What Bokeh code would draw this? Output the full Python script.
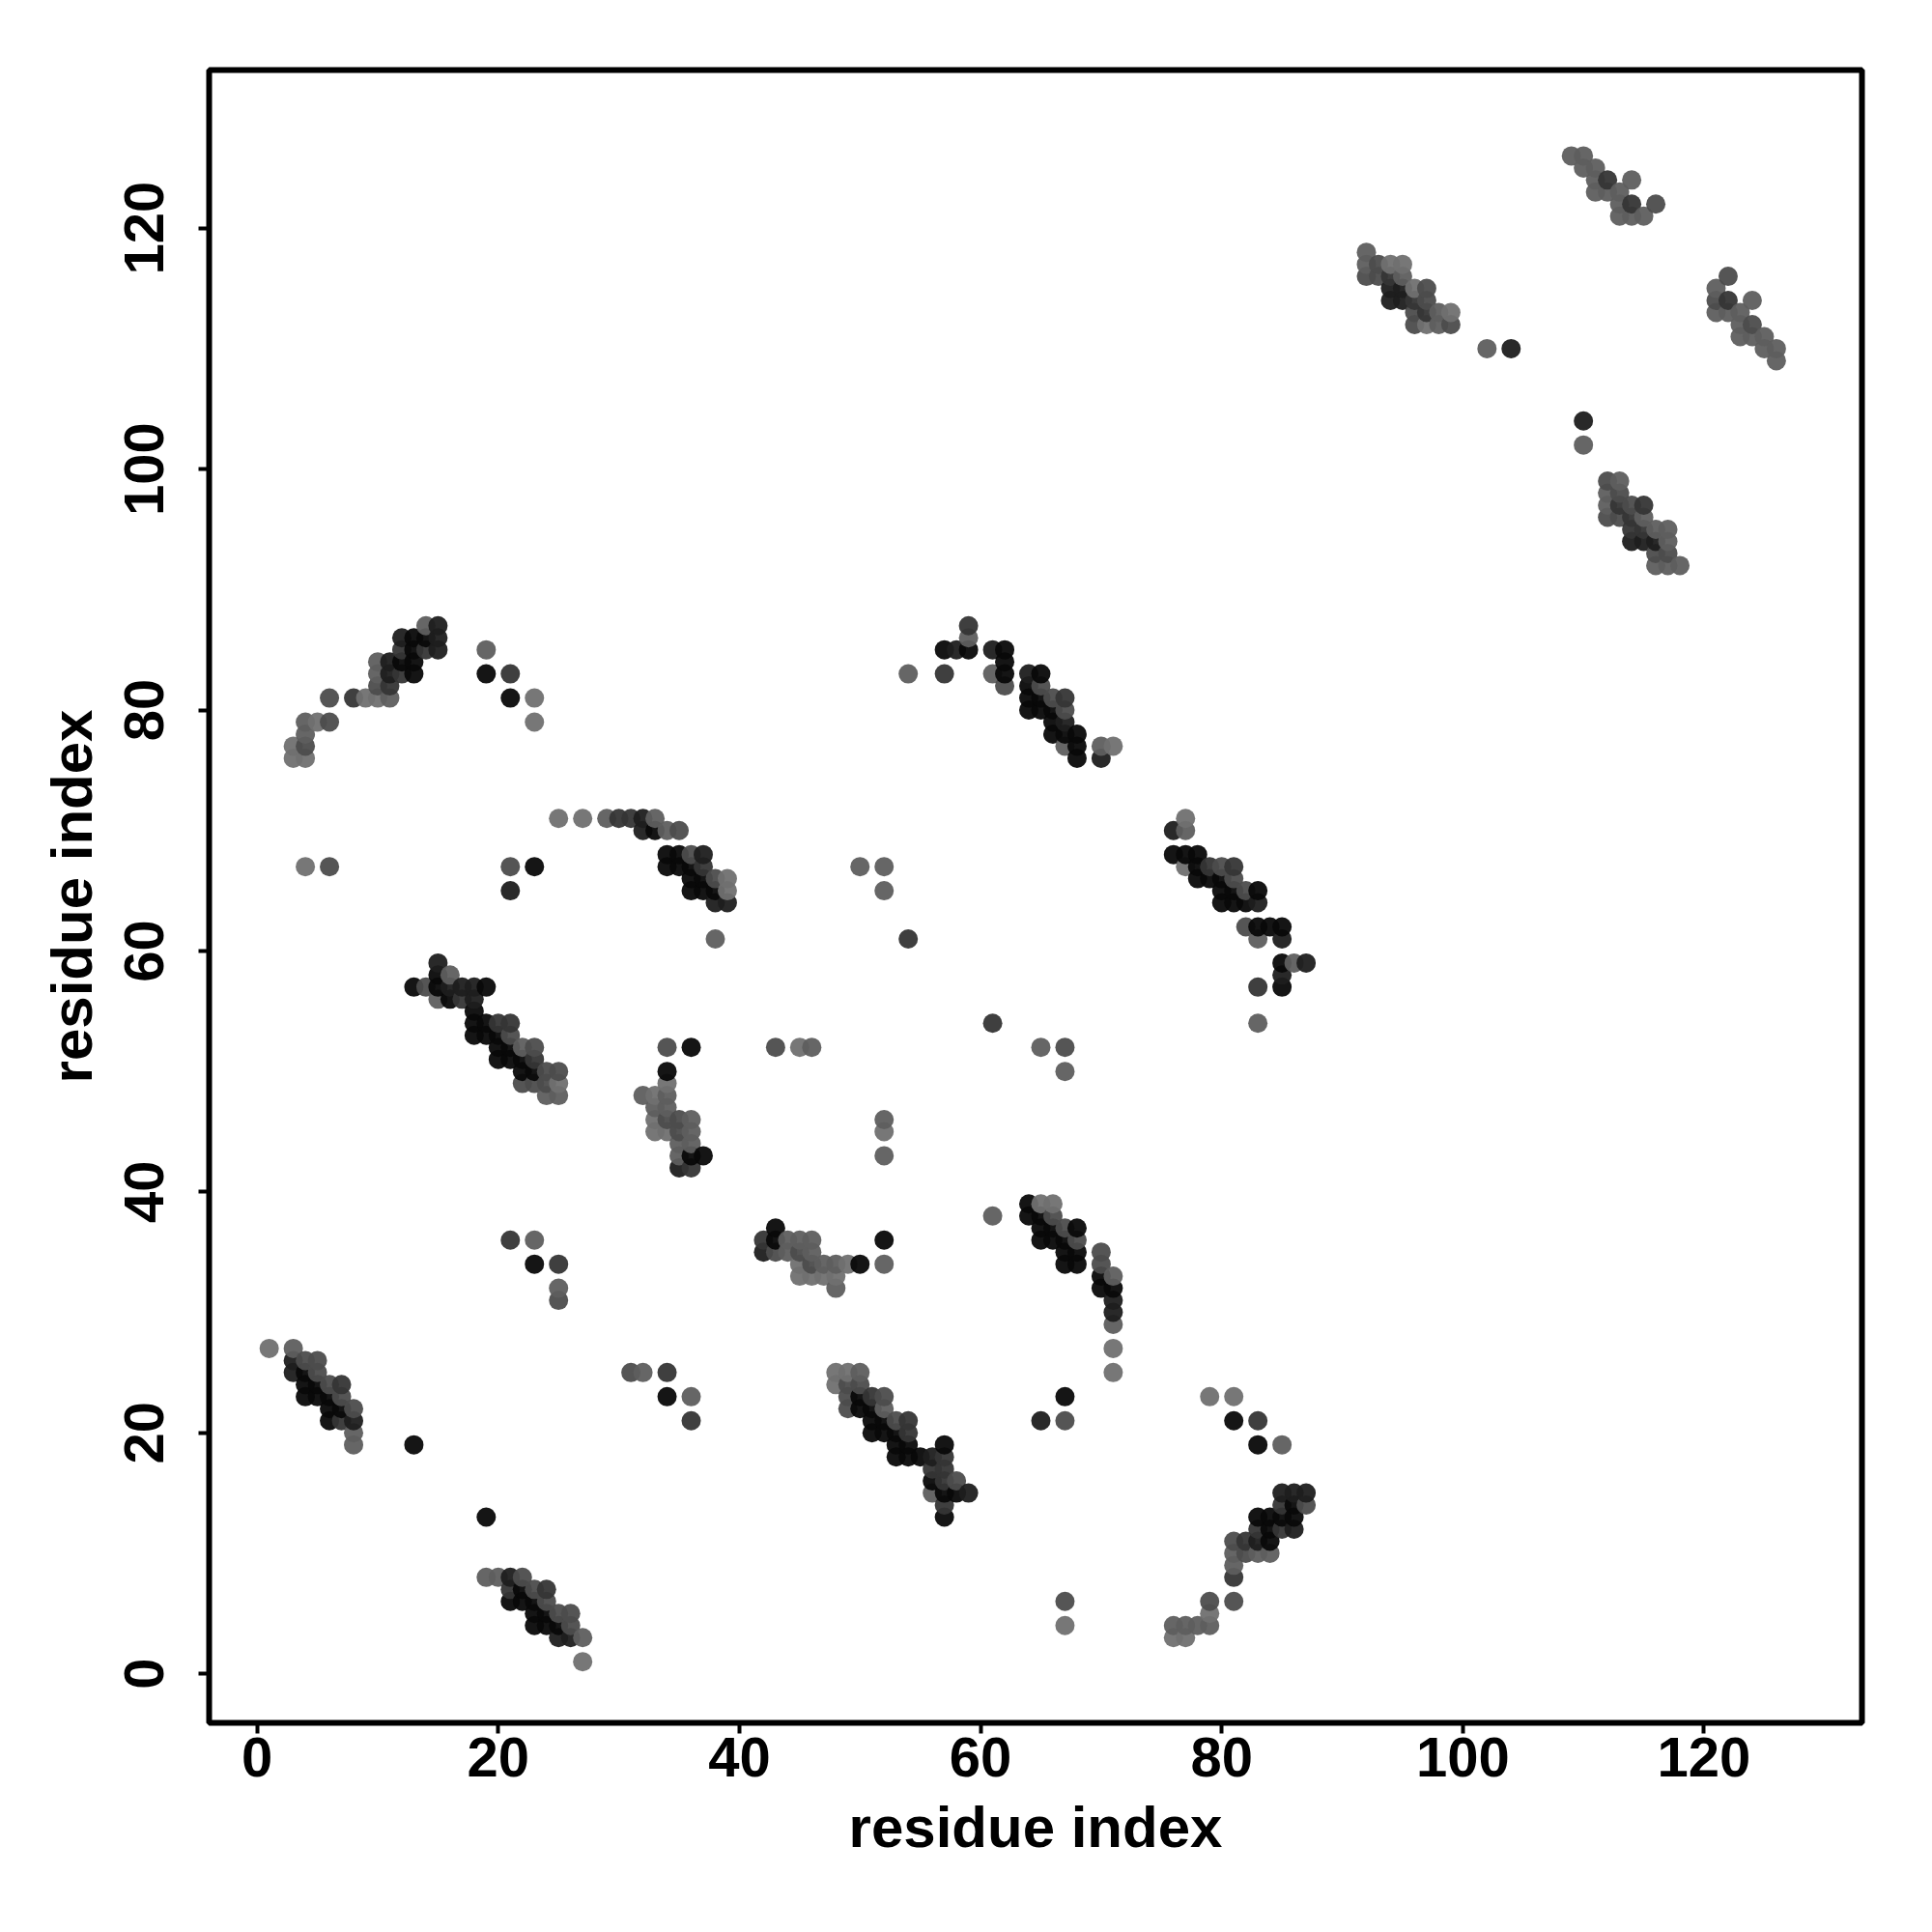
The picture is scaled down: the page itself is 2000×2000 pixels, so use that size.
from bokeh.plotting import figure
from bokeh.models import FixedTicker, ColumnDataSource, Range1d
from bokeh.embed import file_html
from bokeh.resources import INLINE

# shade letters -> gray fill
SHADES = {"a": "#080808", "b": "#1e1e1e", "c": "#353535", "d": "#4c4c4c", "e": "#5e5e5e", "f": "#707070"}
tick_values = [0, 20, 40, 60, 80, 100, 120]
axis_title = "residue index"

block_low_left = [(1,27,"f"),(3,27,"e"),(3,26,"b"),(3,25,"b"),(4,26,"d"),(5,26,"d"),(5,25,"d"),(4,25,"a"),(4,24,"a"),(4,23,"a"),
    (5,24,"a"),(5,23,"a"),(6,24,"d"),(7,24,"c"),(6,23,"a"),(7,23,"d"),(6,22,"a"),(6,21,"a"),(7,22,"a"),(8,22,"d"),(7,21,"c"),(8,21,"b"),
    (8,20,"e"),(8,19,"e"),(13,19,"a"),(19,13,"a")]
block_low_second = [(19,8,"e"),(20,8,"e"),(21,8,"b"),(22,8,"d"),(21,7,"c"),(22,7,"a"),(23,7,"d"),(24,7,"c"),(21,6,"a"),(22,6,"a"),
    (23,6,"a"),(24,6,"d"),(23,5,"a"),(24,5,"a"),(25,5,"d"),(26,5,"d"),(23,4,"a"),(24,4,"a"),(25,4,"a"),(26,4,"d"),(25,3,"b"),(26,3,"b"),
    (27,3,"e"),(27,1,"f")]
block_mid_35 = [(43,37,"a"),(42,36,"c"),(43,36,"a"),(44,36,"e"),(45,36,"e"),(46,36,"e"),(42,35,"b"),(43,35,"d"),(44,35,"e"),(45,35,"d"),
    (46,35,"e"),(45,34,"f"),(46,34,"d"),(47,34,"e"),(48,34,"e"),(49,34,"f"),(50,34,"a"),(52,36,"a"),(52,34,"e"),(45,33,"f"),(46,33,"f"),
    (47,33,"f"),(48,33,"f"),(48,32,"e"),(31,25,"d"),(32,25,"e"),(34,25,"c"),(34,23,"a"),(36,23,"e"),(36,21,"c")]
block_low_mid = [(48,25,"f"),(49,25,"f"),(50,25,"e"),(48,24,"f"),(49,24,"d"),(50,24,"d"),(49,23,"d"),(50,23,"a"),(51,23,"c"),(52,23,"d"),
    (49,22,"d"),(50,22,"a"),(51,22,"a"),(52,22,"e"),(51,21,"a"),(52,21,"a"),(53,21,"d"),(54,21,"c"),(51,20,"a"),(52,20,"a"),(53,20,"a"),
    (54,20,"c"),(53,19,"a"),(54,19,"a"),(53,18,"a"),(54,18,"a"),(55,18,"a"),(57,19,"a"),(56,18,"b"),(57,18,"c"),(56,17,"c"),(57,17,"c"),
    (56,16,"a"),(57,16,"c"),(58,16,"d"),(56,15,"e"),(57,15,"a"),(58,15,"a"),(59,15,"b"),(57,14,"c"),(57,13,"a")]
block_right_low = [(61,38,"e"),(64,39,"a"),(65,39,"f"),(66,39,"f"),(64,38,"a"),(65,38,"a"),(66,38,"d"),(65,37,"a"),(66,37,"a"),(67,37,"d"),
    (68,37,"a"),(65,36,"a"),(66,36,"a"),(67,36,"a"),(68,36,"d"),(67,35,"a"),(68,35,"a"),(67,34,"a"),(68,34,"a"),(70,35,"d"),(70,34,"d"),
    (70,33,"a"),(71,33,"e"),(70,32,"a"),(71,32,"a"),(71,31,"b"),(71,30,"b"),(71,29,"e"),(71,27,"f"),(71,25,"f"),(67,23,"a"),(65,21,"b"),
    (67,21,"d"),(79,23,"f"),(81,23,"f"),(81,21,"a"),(83,21,"c"),(83,19,"a"),(85,19,"e")]
block_far_low = [(85,15,"b"),(86,15,"b"),(87,15,"b"),(85,14,"c"),(86,14,"a"),(87,14,"d"),(83,13,"a"),(84,13,"a"),(85,13,"a"),(86,13,"a"),
    (83,12,"c"),(84,12,"a"),(85,12,"c"),(86,12,"b"),(81,11,"d"),(82,11,"c"),(83,11,"b"),(84,11,"a"),(81,10,"e"),(82,10,"d"),(83,10,"e"),
    (84,10,"e"),(81,9,"e"),(81,8,"c"),(79,6,"d"),(81,6,"d"),(79,5,"f"),(76,4,"e"),(77,4,"e"),(78,4,"e"),(79,4,"e"),(76,3,"f"),(77,3,"f"),
    (67,6,"d"),(67,4,"f")]
block_55 = [(15,59,"b"),(15,58,"a"),(16,58,"e"),(13,57,"a"),(14,57,"d"),(15,57,"a"),(16,57,"b"),(17,57,"b"),(18,57,"b"),(19,57,"a"),
    (15,56,"e"),(16,56,"a"),(17,56,"c"),(18,56,"b"),(18,55,"a"),(18,54,"a"),(19,54,"a"),(20,54,"c"),(21,54,"c"),(18,53,"a"),(19,53,"a"),
    (20,53,"a"),(21,53,"d"),(20,52,"a"),(21,52,"a"),(22,52,"e"),(23,52,"d"),(20,51,"a"),(21,51,"a"),(22,51,"a"),(23,51,"c"),(22,50,"a"),
    (23,50,"a"),(24,50,"d"),(25,50,"d"),(22,49,"d"),(23,49,"d"),(24,49,"d"),(25,49,"f"),(24,48,"e"),(25,48,"e")]
block_46 = [(34,52,"d"),(36,52,"a"),(34,50,"a"),(34,49,"f"),(32,48,"e"),(33,48,"f"),(34,48,"e"),(33,47,"e"),(34,47,"e"),(33,46,"f"),
    (34,46,"d"),(35,46,"d"),(36,46,"e"),(33,45,"f"),(34,45,"f"),(35,45,"d"),(36,45,"e"),(35,44,"e"),(36,44,"e"),(35,43,"e"),(36,43,"a"),
    (37,43,"a"),(35,42,"b"),(36,42,"c"),(21,36,"c"),(23,36,"e"),(23,34,"a"),(25,34,"c"),(25,32,"e"),(25,31,"d")]
block_scattered = [(61,54,"c"),(54,61,"c"),(43,52,"d"),(45,52,"f"),(46,52,"e"),(52,46,"e"),(52,45,"f"),(52,43,"e"),(65,52,"e"),(67,52,"d"),
    (67,50,"e"),(50,67,"e"),(52,67,"e"),(52,65,"e")]
block_arc_left = [(14,87,"e"),(15,87,"b"),(12,86,"b"),(13,86,"a"),(14,86,"a"),(15,86,"b"),(12,85,"c"),(13,85,"a"),(14,85,"c"),(15,85,"b"),
    (10,84,"e"),(11,84,"b"),(12,84,"a"),(13,84,"a"),(10,83,"e"),(11,83,"b"),(12,83,"c"),(13,83,"a"),(10,82,"d"),(11,82,"c"),(6,81,"d"),
    (8,81,"c"),(9,81,"f"),(10,81,"f"),(11,81,"e"),(4,79,"e"),(5,79,"f"),(6,79,"d"),(4,78,"e"),(3,77,"f"),(4,77,"d"),(3,76,"f"),(4,76,"f"),
    (19,85,"e"),(19,83,"a"),(21,83,"c"),(21,81,"a"),(23,81,"f"),(23,79,"f"),(25,71,"f"),(27,71,"f"),(4,67,"f"),(6,67,"d"),(21,67,"d"),
    (23,67,"a"),(21,65,"b")]
block_68 = [(29,71,"e"),(30,71,"c"),(31,71,"c"),(32,71,"b"),(33,71,"e"),(32,70,"b"),(33,70,"a"),(34,70,"e"),(35,70,"d"),(34,68,"a"),
    (35,68,"a"),(36,68,"d"),(37,68,"b"),(34,67,"a"),(35,67,"a"),(36,67,"a"),(37,67,"c"),(36,66,"a"),(37,66,"a"),(38,66,"d"),(39,66,"f"),
    (36,65,"a"),(37,65,"a"),(38,65,"a"),(39,65,"f"),(38,64,"b"),(39,64,"b"),(38,61,"e")]
block_arc_mid = [(59,87,"c"),(59,86,"e"),(57,85,"a"),(58,85,"b"),(59,85,"a"),(61,85,"b"),(62,85,"a"),(62,84,"a"),(54,83,"e"),(57,83,"c"),
    (61,83,"e"),(62,83,"a"),(62,82,"d"),(64,83,"b"),(65,83,"a"),(64,82,"a"),(65,82,"d"),(64,81,"a"),(65,81,"a"),(66,81,"d"),(67,81,"c"),
    (64,80,"a"),(65,80,"a"),(66,80,"a"),(67,80,"d"),(66,79,"a"),(67,79,"b"),(66,78,"a"),(67,78,"a"),(68,78,"a"),(67,77,"e"),(68,77,"a"),
    (70,77,"e"),(71,77,"f"),(68,76,"a"),(70,76,"b")]
block_65 = [(77,71,"f"),(76,70,"b"),(77,70,"e"),(76,68,"a"),(77,68,"a"),(78,68,"a"),(77,67,"f"),(78,67,"a"),(79,67,"c"),(80,67,"d"),
    (81,67,"c"),(78,66,"a"),(79,66,"a"),(80,66,"a"),(81,66,"d"),(80,65,"a"),(81,65,"a"),(82,65,"d"),(83,65,"a"),(80,64,"a"),(81,64,"a"),
    (82,64,"a"),(83,64,"b"),(82,62,"d"),(83,62,"a"),(84,62,"a"),(85,62,"a"),(83,61,"e"),(85,61,"b"),(85,59,"a"),(86,59,"e"),(87,59,"b"),
    (85,58,"b"),(85,57,"a"),(83,57,"c"),(83,54,"e")]
block_115 = [(92,118,"e"),(92,117,"e"),(93,117,"d"),(94,117,"f"),(95,117,"f"),(92,116,"d"),(93,116,"d"),(94,116,"c"),(95,116,"e"),(94,115,"b"),
    (95,115,"b"),(96,115,"f"),(97,115,"d"),(94,114,"b"),(95,114,"b"),(96,114,"c"),(97,114,"d"),(96,113,"d"),(97,113,"c"),(98,113,"e"),
    (99,113,"f"),(96,112,"d"),(97,112,"f"),(98,112,"e"),(99,112,"d"),(102,110,"e"),(104,110,"b")]
block_124 = [(109,126,"e"),(110,126,"e"),(110,125,"e"),(111,125,"e"),(111,124,"e"),(112,124,"c"),(114,124,"e"),(111,123,"e"),(112,123,"e"),
    (113,123,"e"),(113,122,"e"),(114,122,"c"),(116,122,"d"),(113,121,"e"),(114,121,"e"),(115,121,"e")]
block_113 = [(122,116,"d"),(121,115,"e"),(121,114,"d"),(122,114,"c"),(124,114,"e"),(121,113,"e"),(122,113,"e"),(123,113,"e"),(123,112,"e"),
    (124,112,"d"),(123,111,"e"),(124,111,"e"),(125,111,"e"),(125,110,"e"),(126,110,"e"),(126,109,"e")]
block_96 = [(110,104,"b"),(110,102,"e"),(112,99,"d"),(113,99,"e"),(112,98,"e"),(113,98,"d"),(112,97,"e"),(113,97,"c"),(114,97,"d"),(115,97,"c"),
    (112,96,"d"),(113,96,"d"),(114,96,"c"),(115,96,"e"),(114,95,"c"),(115,95,"c"),(116,95,"e"),(117,95,"e"),(114,94,"b"),(115,94,"b"),
    (116,94,"b"),(117,94,"e"),(116,93,"d"),(117,93,"d"),(116,92,"e"),(117,92,"e"),(118,92,"e")]

blocks = [block_low_left, block_low_second, block_mid_35, block_low_mid, block_right_low, block_far_low, block_55, block_46,
          block_scattered, block_arc_left, block_68, block_arc_mid, block_65, block_115, block_124, block_113, block_96]
points = sorted(pt for b in blocks for pt in b)

src = ColumnDataSource(dict(x=[pt[0] for pt in points], y=[pt[1] for pt in points],
                            c=[SHADES[pt[2]] for pt in points]))

p = figure(width=1984, height=1984, frame_width=1711, frame_height=1711,
           x_range=Range1d(-3.98, 133.1), y_range=Range1d(-4.08, 133.13),
           output_backend="svg", toolbar_location=None,
           min_border_left=216, min_border_right=57, min_border_top=72, min_border_bottom=201,
           background_fill_color="white", border_fill_color="white")
p.grid.visible = False
p.outline_line_color = "black"
p.outline_line_width = 6
p.outline_line_alpha = 1

p.scatter("x", "y", source=src, size=20, fill_color="c", fill_alpha=0.95, line_color=None)

for ax in (p.xaxis[0], p.yaxis[0]):
    ax.ticker = FixedTicker(ticks=tick_values)
    ax.axis_line_color = None
    ax.major_tick_line_color = "black"
    ax.major_tick_line_width = 4
    ax.major_tick_out = 11
    ax.major_tick_in = 0
    ax.minor_tick_line_color = None
    ax.major_label_text_font = "Liberation Sans"
    ax.major_label_text_font_style = "bold"
    ax.major_label_text_font_size = "58px"
    ax.major_label_text_color = "black"
    ax.axis_label = axis_title
    ax.axis_label_text_font = "Liberation Sans"
    ax.axis_label_text_font_style = "bold"
    ax.axis_label_text_font_size = "60px"
    ax.axis_label_text_color = "black"
p.xaxis[0].major_label_standoff = 4
p.xaxis[0].axis_label_standoff = 16
p.yaxis[0].major_label_orientation = "vertical"
p.yaxis[0].major_label_standoff = 36
p.yaxis[0].axis_label_standoff = 19

open("out.html", "w").write(file_html(p, INLINE))
